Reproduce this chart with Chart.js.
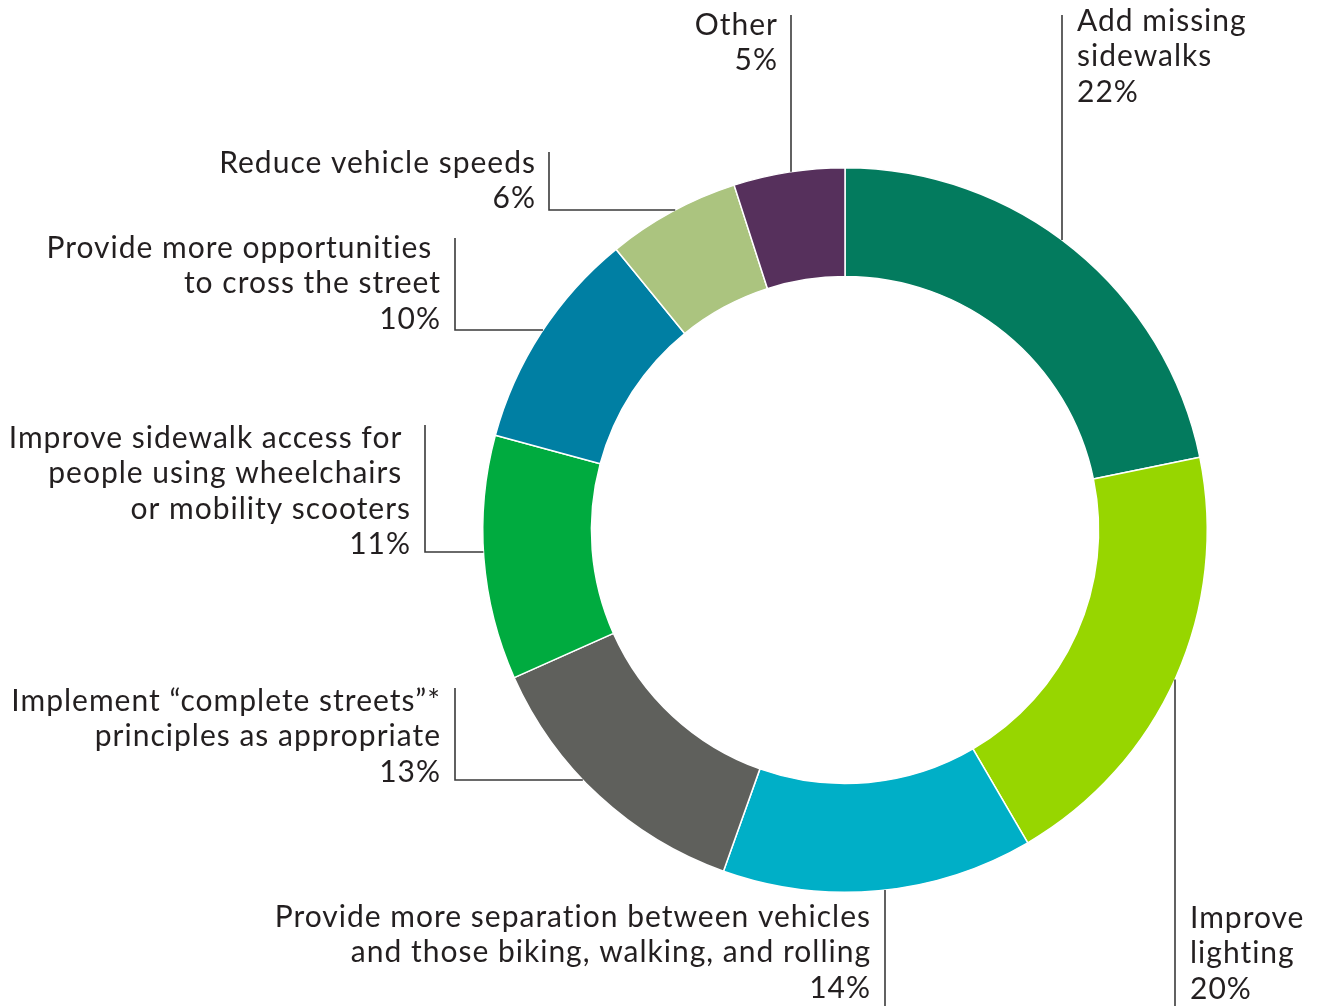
<!DOCTYPE html>
<html>
<head>
<meta charset="utf-8">
<script src="https://cdn.jsdelivr.net/npm/chart.js@4"></script>
<style>
  html, body { margin: 0; padding: 0; background: #fff; }
  #wrap { width: 1322px; height: 1006px; position: relative; }
</style>
</head>
<body>
<div id="wrap"><canvas id="c" width="1322" height="1006"></canvas></div>
<script>
// ---- data ----
const categories = [
  "Add missing sidewalks",
  "Improve lighting",
  "Provide more separation between vehicles and those biking, walking, and rolling",
  "Implement “complete streets”* principles as appropriate",
  "Improve sidewalk access for people using wheelchairs or mobility scooters",
  "Provide more opportunities to cross the street",
  "Reduce vehicle speeds",
  "Other"
];
const values = [22, 20, 14, 13, 11, 10, 6, 5];
const labelLines = [
  ["Add missing", "sidewalks"],
  ["Improve", "lighting"],
  ["Provide more separation between vehicles", "and those biking, walking, and rolling"],
  ["Implement “complete streets”*", "principles as appropriate"],
  ["Improve sidewalk access for ", "people using wheelchairs ", "or mobility scooters"],
  ["Provide more opportunities ", "to cross the street"],
  ["Reduce vehicle speeds"],
  ["Other"]
];
const colors = ["#037B5E", "#97D600", "#00AFC7", "#5F605C", "#00AB3F", "#007FA3", "#ABC47F", "#56305C"];

// ---- label layout (positions only) ----
const labelLayout = [
  { align: "left",  tx: 1077, ty: 21,  lx: 1062, ly0: 15,   kind: "vTop" },
  { align: "left",  tx: 1190, ty: 918, lx: 1175, ly0: 1006, kind: "vBottom" },
  { align: "right", tx: 871,  ty: 917, lx: 885,  ly0: 1006, kind: "vBottom" },
  { align: "right", tx: 441,  ty: 701, lx: 455,  ly0: 688,  ly1: 780, kind: "elbowLeft" },
  { align: "right", tx: 411,  ty: 438, lx: 425,  ly0: 425,  ly1: 552, kind: "elbowLeft" },
  { align: "right", tx: 441,  ty: 248, lx: 455,  ly0: 238,  ly1: 330, kind: "elbowLeft" },
  { align: "right", tx: 536,  ty: 163, lx: 549,  ly0: 152,  ly1: 210, kind: "elbowLeft" },
  { align: "right", tx: 778,  ty: 25,  lx: 791,  ly0: 15,   kind: "vTop" }
];
const lineHeight = 35.5;

const labelPlugin = {
  id: "outLabels",
  afterDraw(chart) {
    const ctx = chart.ctx;
    const meta = chart.getDatasetMeta(0);
    const arc = meta.data[0];
    const cx = arc.x, cy = arc.y, R = arc.outerRadius;
    ctx.save();
    ctx.font = "30px Lato";
    try { ctx.letterSpacing = "1px"; } catch (e) {}
    ctx.fillStyle = "#231F20";
    ctx.textBaseline = "middle";
    values.forEach((v, i) => {
      const L = labelLayout[i];
      const lines = labelLines[i].concat([v + "%"]);
      ctx.textAlign = L.align;
      lines.forEach((t, k) => ctx.fillText(t, L.tx, L.ty + k * lineHeight));
      ctx.beginPath();
      ctx.strokeStyle = "#3A3A3A";
      ctx.lineWidth = 1.6;
      if (L.kind === "vTop") {
        const yEnd = cy - Math.sqrt(R * R - (L.lx - cx) * (L.lx - cx));
        ctx.moveTo(L.lx, L.ly0); ctx.lineTo(L.lx, yEnd);
      } else if (L.kind === "vBottom") {
        const yEnd = cy + Math.sqrt(R * R - (L.lx - cx) * (L.lx - cx));
        ctx.moveTo(L.lx, L.ly0); ctx.lineTo(L.lx, yEnd);
      } else {
        const xEnd = cx - Math.sqrt(R * R - (L.ly1 - cy) * (L.ly1 - cy));
        ctx.moveTo(L.lx, L.ly0); ctx.lineTo(L.lx, L.ly1); ctx.lineTo(xEnd, L.ly1);
      }
      ctx.stroke();
    });
    ctx.restore();
  }
};

new Chart(document.getElementById("c"), {
  type: "doughnut",
  data: {
    labels: categories,
    datasets: [{
      data: values,
      backgroundColor: colors,
      borderColor: "#ffffff",
      borderWidth: 1.5
    }]
  },
  options: {
    responsive: false,
    animation: false,
    cutout: "70%",
    layout: { padding: { left: 482, right: 114, top: 167, bottom: 113 } },
    plugins: { legend: { display: false }, tooltip: { enabled: false } }
  },
  plugins: [labelPlugin]
});
</script>
</body>
</html>
